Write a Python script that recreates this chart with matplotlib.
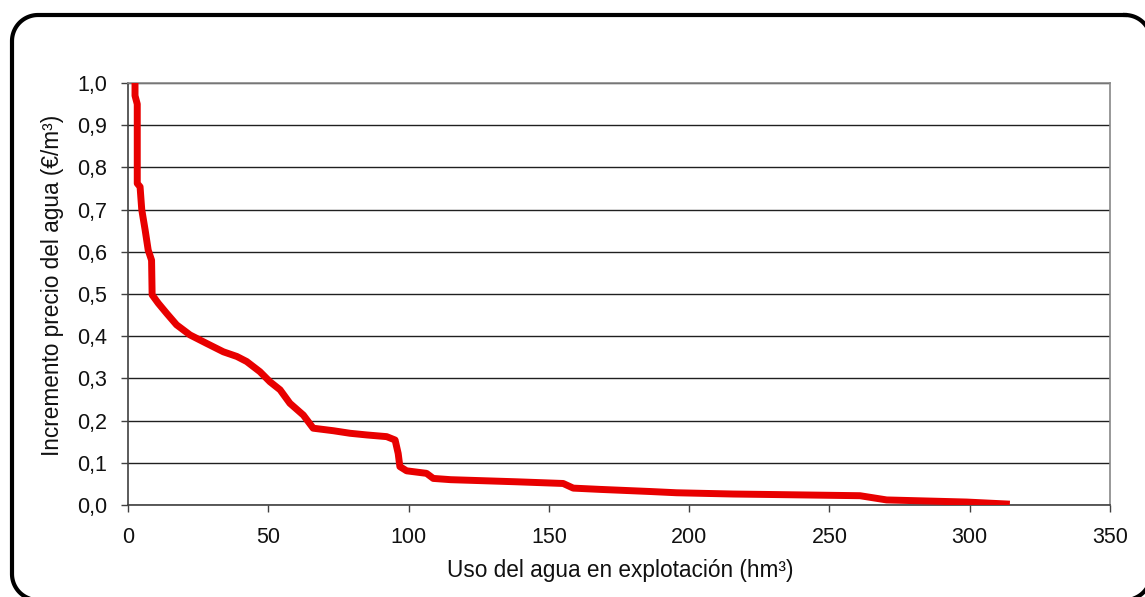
import matplotlib
matplotlib.use("Agg")
import matplotlib.pyplot as plt
import numpy as np

plt.rcParams['font.family'] = ['Liberation Sans', 'DejaVu Sans']

uso = [2.5, 2.5, 3.3, 3.3, 4.3, 4.9, 6.1, 7.2, 8.4, 8.6, 10.8, 13.8, 17.3, 22.1,
       28.0, 34.0, 38.8, 42.3, 47.0, 50.6, 54.2, 57.7, 62.5, 66.0, 73.2, 79.1,
       85.1, 92.2, 95.2, 96.3, 96.9, 99.3, 106.4, 108.8, 115.0, 138.5, 155.1, 158.7,
       168.2, 186.0, 195.5, 215.7, 227.6, 260.9, 270.4, 298.9, 314.3]
precio = [1.0, 0.97, 0.95, 0.762, 0.754, 0.70, 0.652, 0.604, 0.58, 0.498, 0.478,
          0.454, 0.427, 0.403, 0.383, 0.363, 0.352, 0.340, 0.316, 0.292, 0.273,
          0.241, 0.213, 0.182, 0.176, 0.170, 0.166, 0.162, 0.154, 0.122, 0.091,
          0.081, 0.075, 0.063, 0.060, 0.055, 0.051, 0.040, 0.037, 0.032, 0.029,
          0.026, 0.025, 0.022, 0.012, 0.007, 0.002]
xticks = [0, 50, 100, 150, 200, 250, 300, 350]
yticks = [0.0, 0.1, 0.2, 0.3, 0.4, 0.5, 0.6, 0.7, 0.8, 0.9, 1.0]
ytick_labels = ['0,0', '0,1', '0,2', '0,3', '0,4', '0,5', '0,6', '0,7', '0,8', '0,9', '1,0']

W, H = 1145, 597
fig = plt.figure(figsize=(W / 100, H / 100), dpi=100)
fig.patch.set_facecolor('white')

# rounded outer frame (decoration) drawn in pixel coordinates, y from top
bg = fig.add_axes([0, 0, 1, 1], zorder=0)
bg.set_xlim(0, W)
bg.set_ylim(H, 0)
bg.axis('off')
fx0, fx1, fy0, fy1, rad = 12, 1151, 15, 600, 26
corners = [(fx1 - rad, fy0 + rad, -90, 0), (fx1 - rad, fy1 - rad, 0, 90),
           (fx0 + rad, fy1 - rad, 90, 180), (fx0 + rad, fy0 + rad, 180, 270)]
px, py = [], []
for cx, cy, a0, a1 in corners:
    t = np.radians(np.linspace(a0, a1, 30))
    px.extend(cx + rad * np.cos(t))
    py.extend(cy + rad * np.sin(t))
px.append(px[0]); py.append(py[0])
bg.plot(px, py, color='black', linewidth=3.0, solid_joinstyle='round')

left, right, top, bottom = 128, 1110, 83, 505
ax = fig.add_axes([left / W, 1 - bottom / H, (right - left) / W, (bottom - top) / H], zorder=1)
ax.patch.set_alpha(0)

ax.plot(uso, precio, color='#e80000', linewidth=5.0, solid_joinstyle='round',
        solid_capstyle='butt', zorder=3)

ax.set_xlim(0, 350)
ax.set_ylim(0, 1.0)
ax.set_xticks(xticks)
ax.set_xticklabels([str(t) for t in xticks])
ax.set_yticks(yticks)
ax.set_yticklabels(ytick_labels)
ax.yaxis.grid(True, color='#202020', linewidth=1.0)
ax.set_axisbelow(True)

for s in ['left', 'bottom']:
    ax.spines[s].set_color('#404040')
    ax.spines[s].set_linewidth(1.2)
for s in ['right', 'top']:
    ax.spines[s].set_color('#888888')
    ax.spines[s].set_linewidth(1.2)

ax.tick_params(axis='both', direction='out', length=5, width=1.0, color='#404040',
               labelsize=15.5, labelcolor='#111111')
ax.tick_params(axis='x', pad=11)
ax.tick_params(axis='y', pad=10)

ax.set_xlabel('Uso del agua en explotación (hm³)', fontsize=16.3, color='#111111')
ax.set_ylabel('Incremento precio del agua (€/m³)', fontsize=16.3, color='#111111')
ax.xaxis.set_label_coords((620 - left) / (right - left), (bottom - 559) / (bottom - top))
ax.yaxis.set_label_coords((64 - left) / (right - left), (505 - 285) / (bottom - top))

fig.savefig('out.png', dpi=100, facecolor='white')
